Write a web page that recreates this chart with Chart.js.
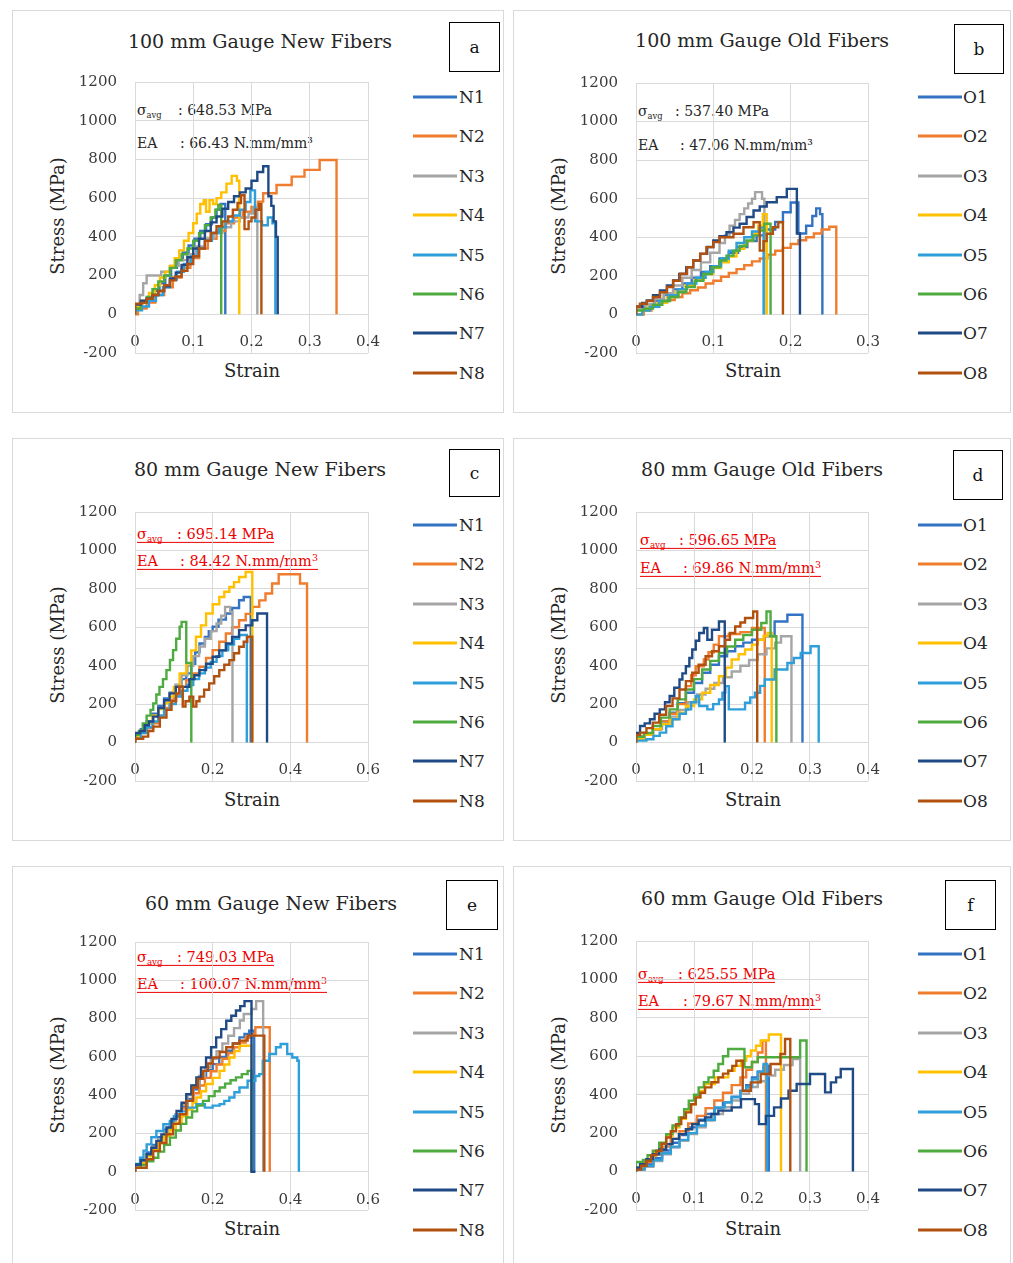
<!DOCTYPE html>
<html><head><meta charset="utf-8">
<script src="https://cdn.jsdelivr.net/npm/chart.js@4.4.1/dist/chart.umd.min.js"></script>
<style>
html,body{margin:0;padding:0;background:#fff;}
body{width:1013px;height:1263px;position:relative;overflow:hidden;font-family:"DejaVu Serif",serif;color:#262626;}
.box{position:absolute;border:1px solid #d9d9d9;box-sizing:border-box;}
.title{position:absolute;font-size:19px;white-space:nowrap;transform:translate(-50%,-50%);}
.letter{position:absolute;border:1.5px solid #000;box-sizing:border-box;background:#fff;font-size:17px;display:flex;align-items:center;justify-content:center;color:#111;}
.leg{position:absolute;font-size:17px;white-space:nowrap;transform:translateY(-50%);line-height:1;}
.legline{position:absolute;height:3px;width:44px;transform:translateY(-50%);}
.ytitle{position:absolute;font-size:18px;white-space:nowrap;transform:translate(-50%,-50%) rotate(-90deg);}
.xtitle{position:absolute;font-size:18px;white-space:nowrap;transform:translate(-50%,-50%);}
.ann{position:absolute;white-space:nowrap;transform:translateY(-50%);line-height:1.05;}
.ann span.lab{display:inline-block;}
.ann sub{font-size:60%;vertical-align:-3px;line-height:0;}
.red{color:#ee0000;border-bottom:1px solid #ee0000;font-size:14.5px;}
.blk{font-size:14px;}
canvas{position:absolute;}
</style>
</head><body>
<script>
// ---------------- DATA ----------------
const yTickLabels = ['-200','0','200','400','600','800','1000','1200'];
const xTicks03 = ['0','0.1','0.2','0.3'];
const xTicks04 = ['0','0.1','0.2','0.3','0.4'];
const xTicks06 = ['0','0.2','0.4','0.6'];
const labelsNew = ['N1','N2','N3','N4','N5','N6','N7','N8'];
const labelsOld = ['O1','O2','O3','O4','O5','O6','O7','O8'];
const panelTitles = ['100 mm Gauge New Fibers','100 mm Gauge Old Fibers','80 mm Gauge New Fibers','80 mm Gauge Old Fibers','60 mm Gauge New Fibers','60 mm Gauge Old Fibers'];
const panelLetters = ['a','b','c','d','e','f'];
const sigmaAvg = ['648.53','537.40','695.14','596.65','749.03','625.55'];
const energyAbs = ['66.43','47.06','84.42','69.86','100.07','79.67'];

// (a) 100 mm new fibres  [strain, stress MPa]
const aN1 = [[0,0],[0,40],[0.012,60],[0.022,90],[0.032,120],[0.042,160],[0.052,200],[0.062,240],[0.072,280],[0.082,320],[0.092,355],[0.102,390],[0.112,430],[0.122,465],[0.132,500],[0.14,540],[0.147,570],[0.155,0]];
const aN2 = [[0,0],[0.005,30],[0.02,60],[0.035,100],[0.05,140],[0.065,190],[0.08,240],[0.095,290],[0.11,340],[0.125,390],[0.14,430],[0.155,470],[0.17,500],[0.185,530],[0.2,555],[0.211,582],[0.22,625],[0.243,668],[0.269,711],[0.291,746],[0.317,797],[0.346,0]];
const aN3 = [[0,0],[0,40],[0.008,100],[0.014,160],[0.02,200],[0.045,220],[0.06,250],[0.075,280],[0.09,310],[0.105,350],[0.12,390],[0.135,420],[0.15,450],[0.165,480],[0.18,500],[0.195,520],[0.203,550],[0.21,0]];
const aN4 = [[0,0],[0,40],[0.012,70],[0.024,110],[0.034,150],[0.043,190],[0.052,220],[0.06,250],[0.068,290],[0.076,330],[0.084,380],[0.092,420],[0.1,470],[0.106,520],[0.112,570],[0.118,590],[0.122,530],[0.128,590],[0.134,570],[0.14,600],[0.148,630],[0.157,675],[0.166,715],[0.175,690],[0.179,0]];
const aN5 = [[0,0],[0,20],[0.012,40],[0.024,70],[0.036,100],[0.048,140],[0.06,180],[0.072,220],[0.084,260],[0.096,300],[0.108,340],[0.12,380],[0.132,420],[0.144,450],[0.156,480],[0.168,510],[0.18,540],[0.19,580],[0.198,640],[0.206,480],[0.218,460],[0.228,500],[0.236,470],[0.241,0]];
const aN6 = [[0,0],[0,30],[0.01,60],[0.02,90],[0.03,130],[0.04,170],[0.05,200],[0.06,240],[0.07,280],[0.08,310],[0.09,340],[0.1,380],[0.11,420],[0.12,460],[0.13,500],[0.138,540],[0.143,565],[0.148,0]];
const aN7 = [[0,0],[0,50],[0.01,70],[0.02,80],[0.03,100],[0.04,120],[0.05,145],[0.06,185],[0.07,215],[0.08,255],[0.09,295],[0.1,340],[0.11,390],[0.12,430],[0.13,475],[0.14,505],[0.15,545],[0.16,580],[0.17,610],[0.18,630],[0.19,650],[0.2,690],[0.21,735],[0.22,765],[0.229,610],[0.234,560],[0.238,480],[0.242,400],[0.245,0]];
const aN8 = [[0,0],[0,55],[0.012,60],[0.02,80],[0.03,100],[0.04,120],[0.05,150],[0.06,175],[0.07,195],[0.08,225],[0.09,260],[0.1,300],[0.11,340],[0.12,380],[0.13,420],[0.14,455],[0.15,480],[0.16,505],[0.168,540],[0.176,575],[0.182,615],[0.188,440],[0.195,480],[0.2,500],[0.207,540],[0.213,570],[0.217,0]];

// (b) 100 mm old fibres
const bO1 = [[0,0],[0,40],[0.012,50],[0.024,70],[0.036,100],[0.048,130],[0.06,160],[0.072,190],[0.084,220],[0.096,250],[0.108,290],[0.12,320],[0.132,350],[0.144,380],[0.156,410],[0.168,440],[0.18,480],[0.19,530],[0.2,580],[0.21,420],[0.22,460],[0.228,510],[0.233,550],[0.238,520],[0.241,0]];
const bO2 = [[0,0],[0.01,20],[0.02,40],[0.03,60],[0.04,75],[0.05,90],[0.06,110],[0.07,125],[0.08,140],[0.09,160],[0.1,175],[0.11,195],[0.12,215],[0.13,235],[0.14,255],[0.15,275],[0.16,290],[0.17,310],[0.18,330],[0.19,345],[0.2,365],[0.21,385],[0.22,400],[0.23,420],[0.24,440],[0.25,455],[0.259,0]];
const bO3 = [[0,0],[0,30],[0.012,50],[0.024,80],[0.036,110],[0.048,150],[0.06,190],[0.072,230],[0.084,270],[0.096,320],[0.108,370],[0.115,410],[0.121,460],[0.128,490],[0.134,520],[0.14,550],[0.145,575],[0.15,600],[0.154,634],[0.163,600],[0.166,0]];
const bO4 = [[0,0],[0.008,20],[0.016,40],[0.028,60],[0.04,90],[0.052,120],[0.064,150],[0.076,180],[0.088,210],[0.1,240],[0.11,270],[0.12,300],[0.13,340],[0.14,380],[0.15,420],[0.158,460],[0.164,520],[0.169,0]];
const bO5 = [[0,0],[0.008,20],[0.018,40],[0.03,70],[0.042,100],[0.054,130],[0.066,160],[0.078,190],[0.09,220],[0.1,250],[0.11,290],[0.12,330],[0.13,370],[0.14,400],[0.15,430],[0.16,450],[0.165,0]];
const bO6 = [[0,0],[0,20],[0.01,30],[0.022,50],[0.034,70],[0.044,90],[0.055,115],[0.065,142],[0.076,175],[0.087,210],[0.098,245],[0.108,280],[0.117,305],[0.126,330],[0.134,355],[0.143,383],[0.152,410],[0.16,435],[0.166,470],[0.174,0]];
const bO7 = [[0,0],[0,40],[0.008,60],[0.014,72],[0.022,100],[0.031,124],[0.04,150],[0.048,176],[0.056,210],[0.065,245],[0.074,280],[0.083,314],[0.092,350],[0.1,383],[0.108,405],[0.117,426],[0.126,450],[0.134,470],[0.143,505],[0.152,539],[0.16,560],[0.169,582],[0.182,608],[0.195,651],[0.208,420],[0.212,0]];
const bO8 = [[0,0],[0,40],[0.005,55],[0.014,70],[0.022,90],[0.031,115],[0.04,142],[0.048,175],[0.057,211],[0.066,245],[0.074,280],[0.083,315],[0.091,349],[0.1,375],[0.108,400],[0.126,418],[0.139,452],[0.152,478],[0.16,331],[0.165,380],[0.169,418],[0.177,452],[0.184,478],[0.19,0]];

// (c) 80 mm new fibres
const cN1 = [[0,0],[0,40],[0.015,70],[0.03,110],[0.045,150],[0.06,190],[0.075,230],[0.09,260],[0.105,300],[0.12,330],[0.132,360],[0.145,410],[0.155,470],[0.166,516],[0.18,550],[0.19,580],[0.2,603],[0.215,640],[0.234,672],[0.25,700],[0.268,741],[0.28,758],[0.298,0]];
const cN2 = [[0,0],[0,30],[0.015,50],[0.03,75],[0.047,100],[0.06,140],[0.075,180],[0.089,222],[0.1,250],[0.115,290],[0.132,325],[0.15,360],[0.166,395],[0.183,440],[0.2,481],[0.217,525],[0.234,568],[0.25,600],[0.268,637],[0.285,670],[0.302,706],[0.32,740],[0.336,776],[0.353,828],[0.37,876],[0.425,828],[0.443,0]];
const cN3 = [[0,0],[0,30],[0.015,60],[0.03,100],[0.045,140],[0.06,180],[0.075,220],[0.09,260],[0.105,300],[0.12,350],[0.135,400],[0.15,450],[0.165,500],[0.18,540],[0.195,580],[0.21,620],[0.222,660],[0.232,706],[0.245,680],[0.251,0]];
const cN4 = [[0,0],[0,30],[0.015,60],[0.03,100],[0.045,140],[0.06,175],[0.075,205],[0.089,239],[0.1,290],[0.115,360],[0.132,412],[0.145,480],[0.157,551],[0.17,610],[0.183,672],[0.2,720],[0.217,758],[0.23,785],[0.243,810],[0.255,835],[0.268,862],[0.285,888],[0.302,0]];
const cN5 = [[0,0],[0,20],[0.015,50],[0.03,80],[0.045,110],[0.06,140],[0.075,170],[0.09,200],[0.105,240],[0.12,270],[0.135,300],[0.15,330],[0.165,360],[0.18,390],[0.195,420],[0.21,450],[0.225,480],[0.24,510],[0.255,540],[0.268,560],[0.288,0]];
const cN6 = [[0,0],[0,40],[0.01,60],[0.02,100],[0.03,140],[0.04,170],[0.047,204],[0.055,250],[0.063,290],[0.072,330],[0.081,377],[0.09,430],[0.098,481],[0.106,540],[0.115,603],[0.12,628],[0.132,415],[0.145,0]];
const cN7 = [[0,0],[0,50],[0.013,60],[0.025,90],[0.036,110],[0.047,135],[0.06,180],[0.075,220],[0.089,256],[0.105,290],[0.14,330],[0.153,350],[0.166,377],[0.183,410],[0.2,447],[0.217,480],[0.234,516],[0.25,550],[0.268,585],[0.285,610],[0.302,637],[0.315,672],[0.34,0]];
const cN8 = [[0,0],[0,20],[0.021,31],[0.034,60],[0.047,83],[0.064,130],[0.081,170],[0.094,215],[0.106,256],[0.114,291],[0.123,187],[0.13,215],[0.14,239],[0.15,187],[0.158,215],[0.166,239],[0.178,275],[0.191,308],[0.204,345],[0.217,377],[0.23,405],[0.243,429],[0.255,465],[0.268,499],[0.28,525],[0.289,551],[0.302,0]];

// (d) 80 mm old fibres
const dO1 = [[0,0],[0,30],[0.014,45],[0.029,69],[0.043,110],[0.058,155],[0.072,205],[0.086,259],[0.1,310],[0.114,363],[0.128,405],[0.143,449],[0.157,475],[0.171,501],[0.185,520],[0.2,535],[0.222,553],[0.239,630],[0.261,665],[0.287,0]];
const dO2 = [[0,0],[0,20],[0.015,40],[0.029,69],[0.043,110],[0.058,150],[0.072,200],[0.086,294],[0.095,350],[0.103,397],[0.117,432],[0.125,470],[0.134,510],[0.143,553],[0.16,565],[0.18,575],[0.2,596],[0.222,0]];
const dO3 = [[0,0],[0,20],[0.015,40],[0.03,70],[0.045,100],[0.06,135],[0.075,170],[0.09,210],[0.105,250],[0.12,280],[0.135,310],[0.15,340],[0.165,370],[0.18,400],[0.195,430],[0.21,460],[0.225,490],[0.24,520],[0.25,553],[0.268,0]];
const dO4 = [[0,0],[0,20],[0.014,40],[0.029,70],[0.043,95],[0.058,121],[0.072,155],[0.086,190],[0.1,225],[0.114,259],[0.128,300],[0.143,345],[0.155,390],[0.165,432],[0.177,460],[0.188,484],[0.2,510],[0.21,535],[0.22,555],[0.227,570],[0.234,0]];
const dO5 = [[0,0],[0,10],[0.018,17],[0.03,35],[0.041,52],[0.052,85],[0.063,121],[0.075,150],[0.086,173],[0.095,210],[0.103,242],[0.109,190],[0.123,173],[0.133,200],[0.143,224],[0.149,260],[0.154,294],[0.16,173],[0.188,207],[0.197,235],[0.205,259],[0.214,295],[0.222,328],[0.239,380],[0.261,414],[0.272,440],[0.284,466],[0.301,501],[0.315,0]];
const dO6 = [[0,0],[0,30],[0.014,50],[0.029,86],[0.043,130],[0.058,173],[0.072,225],[0.086,276],[0.1,330],[0.114,380],[0.128,425],[0.143,466],[0.157,500],[0.171,535],[0.185,560],[0.2,587],[0.216,622],[0.225,682],[0.232,553],[0.242,0]];
const dO7 = [[0,0],[0,50],[0.007,86],[0.015,100],[0.024,121],[0.032,150],[0.041,173],[0.05,210],[0.058,242],[0.066,285],[0.075,328],[0.08,360],[0.086,397],[0.092,440],[0.097,484],[0.103,530],[0.109,570],[0.117,596],[0.123,535],[0.131,587],[0.143,630],[0.153,0]];
const dO8 = [[0,0],[0,40],[0.007,52],[0.018,75],[0.029,104],[0.04,145],[0.052,190],[0.063,230],[0.075,276],[0.086,320],[0.097,363],[0.108,405],[0.12,449],[0.131,475],[0.143,501],[0.154,535],[0.162,570],[0.171,604],[0.18,625],[0.188,648],[0.202,682],[0.209,0]];

// (e) 60 mm new fibres
const eN1 = [[0,0],[0,30],[0.015,60],[0.03,100],[0.045,140],[0.06,180],[0.075,220],[0.09,260],[0.105,300],[0.12,340],[0.135,380],[0.15,430],[0.166,493],[0.183,530],[0.2,562],[0.217,600],[0.235,632],[0.252,670],[0.269,702],[0.282,720],[0.294,737],[0.307,0]];
const eN2 = [[0,0],[0,20],[0.015,50],[0.03,90],[0.045,130],[0.06,170],[0.075,210],[0.09,250],[0.105,290],[0.12,330],[0.135,370],[0.15,410],[0.165,450],[0.18,490],[0.195,525],[0.21,560],[0.225,590],[0.24,620],[0.255,650],[0.27,675],[0.285,700],[0.3,720],[0.31,755],[0.347,0]];
const eN3 = [[0,0],[0,20],[0.015,50],[0.03,90],[0.045,130],[0.06,170],[0.075,210],[0.09,250],[0.105,300],[0.12,350],[0.135,400],[0.15,450],[0.165,500],[0.18,545],[0.195,590],[0.21,630],[0.225,670],[0.24,710],[0.255,750],[0.27,790],[0.28,824],[0.3,850],[0.312,891],[0.33,0]];
const eN4 = [[0,0],[0,20],[0.015,45],[0.03,80],[0.045,115],[0.06,150],[0.075,185],[0.09,220],[0.105,255],[0.12,290],[0.135,325],[0.148,360],[0.158,388],[0.17,420],[0.183,458],[0.2,490],[0.218,527],[0.23,560],[0.243,597],[0.256,630],[0.269,658],[0.3,0]];
const eN5 = [[0,0],[0,40],[0.013,73],[0.022,110],[0.03,143],[0.042,180],[0.055,213],[0.073,248],[0.09,265],[0.1,290],[0.115,315],[0.132,335],[0.158,353],[0.18,335],[0.2,345],[0.218,353],[0.23,370],[0.243,388],[0.256,415],[0.269,440],[0.29,475],[0.31,500],[0.32,510],[0.329,580],[0.346,615],[0.363,650],[0.375,667],[0.392,615],[0.405,597],[0.418,580],[0.422,0]];
const eN6 = [[0,0],[0,20],[0.015,35],[0.03,55],[0.047,73],[0.06,105],[0.075,140],[0.09,178],[0.105,215],[0.118,250],[0.132,283],[0.147,315],[0.16,345],[0.175,370],[0.19,395],[0.205,420],[0.218,440],[0.232,460],[0.246,478],[0.26,493],[0.275,510],[0.29,527],[0.3,0]];
const eN7 = [[0,0],[0,38],[0.015,60],[0.03,91],[0.042,125],[0.055,161],[0.068,195],[0.081,231],[0.094,275],[0.107,318],[0.12,360],[0.132,405],[0.145,450],[0.158,493],[0.17,545],[0.183,597],[0.196,650],[0.209,702],[0.222,745],[0.235,789],[0.248,815],[0.26,842],[0.271,865],[0.282,891],[0.3,0],[0.31,0]];
const eN8 = [[0,0],[0,20],[0.013,21],[0.03,65],[0.047,108],[0.064,150],[0.081,196],[0.098,250],[0.115,300],[0.132,370],[0.149,440],[0.162,485],[0.175,527],[0.188,565],[0.2,597],[0.218,625],[0.235,650],[0.252,670],[0.269,685],[0.29,711],[0.333,0]];

// (f) 60 mm old fibres
const fO1 = [[0,0],[0,20],[0.015,40],[0.03,70],[0.045,110],[0.06,150],[0.075,190],[0.09,230],[0.105,270],[0.12,300],[0.135,330],[0.15,360],[0.165,390],[0.18,420],[0.19,450],[0.2,490],[0.21,520],[0.22,551],[0.229,0]];
const fO2 = [[0,0],[0,20],[0.015,50],[0.03,90],[0.045,130],[0.06,170],[0.075,210],[0.09,250],[0.105,290],[0.12,330],[0.135,370],[0.15,410],[0.165,450],[0.18,490],[0.19,530],[0.2,570],[0.21,620],[0.218,680],[0.224,0]];
const fO3 = [[0,0],[0,10],[0.015,25],[0.03,55],[0.045,90],[0.06,125],[0.075,160],[0.09,195],[0.105,230],[0.12,265],[0.135,300],[0.15,335],[0.165,370],[0.18,405],[0.195,440],[0.21,470],[0.225,500],[0.24,530],[0.255,555],[0.27,586],[0.283,0]];
const fO4 = [[0,0],[0,20],[0.009,35],[0.018,56],[0.03,100],[0.041,143],[0.052,185],[0.063,230],[0.075,275],[0.086,317],[0.095,350],[0.103,386],[0.111,420],[0.119,456],[0.136,490],[0.159,525],[0.17,550],[0.181,577],[0.19,600],[0.198,630],[0.207,655],[0.215,682],[0.229,713],[0.25,0]];
const fO5 = [[0,0],[0,10],[0.015,30],[0.03,60],[0.045,95],[0.06,130],[0.075,165],[0.09,200],[0.105,240],[0.12,270],[0.136,334],[0.153,360],[0.165,386],[0.18,420],[0.19,440],[0.2,480],[0.21,520],[0.22,560],[0.226,0]];
const fO6 = [[0,0],[0,50],[0.012,60],[0.02,85],[0.029,108],[0.04,150],[0.052,195],[0.063,240],[0.074,282],[0.083,325],[0.091,369],[0.1,400],[0.108,438],[0.117,465],[0.125,490],[0.134,525],[0.142,560],[0.15,600],[0.159,638],[0.187,543],[0.2,570],[0.21,595],[0.283,682],[0.294,0]];
const fO7 = [[0,0],[0,20],[0.007,38],[0.018,65],[0.029,90],[0.04,115],[0.052,143],[0.063,170],[0.074,195],[0.086,220],[0.097,247],[0.108,265],[0.119,282],[0.13,300],[0.142,317],[0.165,334],[0.181,377],[0.205,351],[0.212,247],[0.224,290],[0.238,334],[0.25,380],[0.263,421],[0.277,456],[0.3,508],[0.326,412],[0.336,464],[0.345,490],[0.353,534],[0.374,0]];
const fO8 = [[0,0],[0,10],[0.009,30],[0.018,56],[0.026,85],[0.035,108],[0.044,145],[0.052,177],[0.06,210],[0.069,247],[0.078,280],[0.086,308],[0.095,350],[0.103,386],[0.111,410],[0.119,438],[0.13,465],[0.142,490],[0.15,510],[0.159,525],[0.166,550],[0.173,577],[0.184,421],[0.198,464],[0.215,508],[0.232,560],[0.249,612],[0.257,690],[0.266,0]];

const seriesA = [aN1,aN2,aN3,aN4,aN5,aN6,aN7,aN8];
const seriesB = [bO1,bO2,bO3,bO4,bO5,bO6,bO7,bO8];
const seriesC = [cN1,cN2,cN3,cN4,cN5,cN6,cN7,cN8];
const seriesD = [dO1,dO2,dO3,dO4,dO5,dO6,dO7,dO8];
const seriesE = [eN1,eN2,eN3,eN4,eN5,eN6,eN7,eN8];
const seriesF = [fO1,fO2,fO3,fO4,fO5,fO6,fO7,fO8];

const seriesColors = ['#3373C4','#F07C2E','#A5A5A5','#FFC000','#2E9FDA','#4EAB3F','#1F4A85','#B2510F'];

// ---------------- LAYOUT ----------------
const panels = [
 {box:[12,10,492,403], tc:[260,41], lb:[449,22,51,50], plot:[135,82,368,353], xMax:0.4, xStep:0.1, xl:xTicks04, s:seriesA, n:labelsNew, leg:[413,459,97], yt:[57,216], xt:[252,370], an:{x:137,y1:110,y2:143,c1:41,c2:43,red:false}},
 {box:[513,10,498,403], tc:[762,40], lb:[954,24,50,50], plot:[636,83,868,353], xMax:0.3, xStep:0.1, xl:xTicks03, s:seriesB, n:labelsOld, leg:[918,963,97], yt:[558,216], xt:[753,370], an:{x:638,y1:111,y2:145,c1:37,c2:42,red:false}},
 {box:[12,438,492,403], tc:[260,469], lb:[449,449,51,48], plot:[135,512,368,781], xMax:0.6, xStep:0.2, xl:xTicks06, s:seriesC, n:labelsNew, leg:[413,459,525], yt:[57,645], xt:[252,799], an:{x:137,y1:535,y2:562,c1:40,c2:43,red:true}},
 {box:[513,438,498,403], tc:[762,469], lb:[953,450,50,50], plot:[636,512,868,781], xMax:0.4, xStep:0.1, xl:xTicks04, s:seriesD, n:labelsOld, leg:[918,963,525], yt:[558,645], xt:[753,799], an:{x:640,y1:541,y2:569,c1:39,c2:43,red:true}},
 {box:[12,866,492,430], tc:[271,903], lb:[446,880,52,50], plot:[135,942,368,1210], xMax:0.6, xStep:0.2, xl:xTicks06, s:seriesE, n:labelsNew, leg:[413,459,954], yt:[57,1075], xt:[252,1228], an:{x:137,y1:958,y2:985,c1:40,c2:43,red:true}},
 {box:[513,866,498,430], tc:[762,898], lb:[945,880,51,50], plot:[636,941,868,1210], xMax:0.4, xStep:0.1, xl:xTicks04, s:seriesF, n:labelsOld, leg:[918,963,954], yt:[558,1075], xt:[753,1228], an:{x:638,y1:975,y2:1002,c1:40,c2:45,red:true}}
];

function el(tag, cls, css, html){
  const e=document.createElement(tag); if(cls) e.className=cls;
  Object.assign(e.style, css||{}); if(html!==undefined) e.innerHTML=html;
  document.body.appendChild(e); return e;
}

const YW=60, PT=32, PR=36, PB=32, LEG_DY=39.4;

panels.forEach((p,k)=>{
  el('div','box',{left:p.box[0]+'px',top:p.box[1]+'px',width:p.box[2]+'px',height:p.box[3]+'px'});
  el('div','title',{left:p.tc[0]+'px',top:p.tc[1]+'px'}, panelTitles[k]);
  el('div','letter',{left:p.lb[0]+'px',top:p.lb[1]+'px',width:p.lb[2]+'px',height:p.lb[3]+'px'}, panelLetters[k]);
  el('div','ytitle',{left:p.yt[0]+'px',top:p.yt[1]+'px'}, 'Stress (MPa)');
  el('div','xtitle',{left:p.xt[0]+'px',top:p.xt[1]+'px'}, 'Strain');
  p.n.forEach((name,i)=>{
    const y = p.leg[2] + i*LEG_DY;
    el('div','legline',{left:p.leg[0]+'px',top:y+'px',background:seriesColors[i]});
    el('div','leg',{left:p.leg[1]+'px',top:y+'px'}, name);
  });
  const cls = 'ann ' + (p.an.red ? 'red' : 'blk');
  const sup = p.an.red ? '<sup style="font-size:65%;vertical-align:5px;line-height:0">3</sup>' : '³';
  el('div',cls,{left:p.an.x+'px',top:p.an.y1+'px'},
     '<span class="lab" style="width:'+p.an.c1+'px">σ<sub>avg</sub></span>: '+sigmaAvg[k]+' MPa');
  el('div',cls,{left:p.an.x+'px',top:p.an.y2+'px'},
     '<span class="lab" style="width:'+p.an.c2+'px">EA</span>: '+energyAbs[k]+' N.mm/mm'+sup);

  // chart
  const [L,T,R,B] = p.plot;
  const c=document.createElement('canvas');
  c.width=(R-L)+YW+PR; c.height=(B-T)+PT+PB;
  c.style.left=(L-YW)+'px'; c.style.top=(T-PT)+'px';
  c.style.width=c.width+'px'; c.style.height=c.height+'px';
  document.body.appendChild(c);
  new Chart(c,{
    type:'line',
    data:{datasets:p.s.map((arr,i)=>({
      label:p.n[i],
      data:arr.map(([x,y])=>({x:x,y:y})),
      borderColor:seriesColors[i], backgroundColor:seriesColors[i],
      borderWidth:2.4, pointRadius:0, pointHoverRadius:0, stepped:true, fill:false, order:8-i
    }))},
    options:{
      responsive:false, animation:false, devicePixelRatio:1,
      layout:{padding:{left:0,top:PT,right:PR,bottom:PB}},
      plugins:{legend:{display:false}, tooltip:{enabled:false}},
      scales:{
        x:{type:'linear', position:{y:0}, min:0, max:p.xMax,
           ticks:{stepSize:p.xStep, padding:19, color:'#3a3a3a', maxRotation:0, autoSkip:false,
                  font:{family:'DejaVu Serif', size:15}, callback:(v,i)=>p.xl[i]},
           grid:{color:'#d9d9d9', drawTicks:false}, border:{color:'#d9d9d9'}},
        y:{type:'linear', position:'left', min:-200, max:1200,
           ticks:{stepSize:200, padding:18, color:'#3a3a3a', font:{family:'DejaVu Serif', size:15},
                  callback:(v,i)=>yTickLabels[i]},
           grid:{color:'#d9d9d9', drawTicks:false}, border:{color:'#d9d9d9'},
           afterFit:(s)=>{s.width=YW;}}
      }
    }
  });
});
</script>
</body></html>
